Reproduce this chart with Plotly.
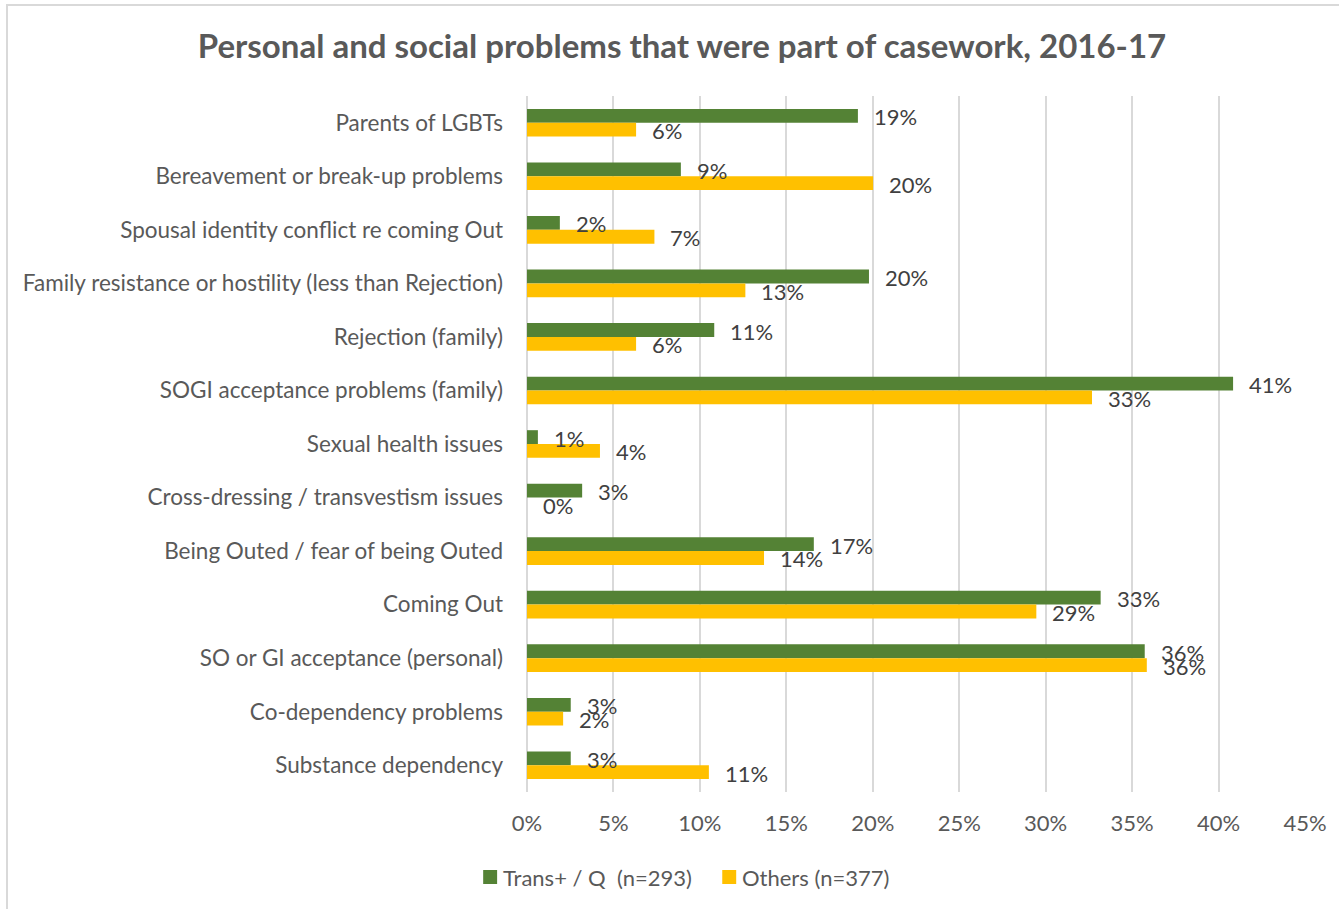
import plotly.graph_objects as go

# Casework problem categories, listed top to bottom
categories = [
    "Parents of LGBTs",
    "Bereavement or break-up problems",
    "Spousal identity conflict re coming Out",
    "Family resistance or hostility (less than Rejection)",
    "Rejection (family)",
    "SOGI acceptance problems (family)",
    "Sexual health issues",
    "Cross-dressing / transvestism issues",
    "Being Outed / fear of being Outed",
    "Coming Out",
    "SO or GI acceptance (personal)",
    "Co-dependency problems",
    "Substance dependency",
]

# Share of cases (fractions)
trans_q = [0.1914, 0.089, 0.019, 0.1978, 0.1083, 0.4084, 0.0063, 0.0319,
           0.1659, 0.3318, 0.3573, 0.0253, 0.0253]
others = [0.0631, 0.2002, 0.0737, 0.1263, 0.0631, 0.3268, 0.0422, 0.0,
          0.1371, 0.2946, 0.3585, 0.0209, 0.1052]

series_names = ["Trans+ / Q\u00a0 (n=293)", "Others (n=377)"]
x_ticks = [0, 0.05, 0.10, 0.15, 0.20, 0.25, 0.30, 0.35, 0.40, 0.45]

GREEN = "#548235"
YELLOW = "#FFC000"
TEXT = "#595959"
FONT = "Lato"
FS = 22

W, H = 1339, 909
L, R, T, B = 527, 31, 96, 117
BAR_W = 0.258

pos = list(range(len(categories)))
colors = [GREEN, YELLOW]

fig = go.Figure()
fig.add_trace(go.Bar(
    x=trans_q, y=pos, orientation="h", name=series_names[0],
    marker=dict(color=GREEN, line=dict(width=0)),
    width=BAR_W, offset=-BAR_W, hoverinfo="x", showlegend=False,
))
fig.add_trace(go.Bar(
    x=others, y=pos, orientation="h", name=series_names[1],
    marker=dict(color=YELLOW, line=dict(width=0)),
    width=BAR_W, offset=0, hoverinfo="x", showlegend=False,
))

# Value labels just past the end of each bar
annotations = []
for vals, shift in ((trans_q, -BAR_W / 2), (others, BAR_W / 2)):
    for i, v in enumerate(vals):
        annotations.append(dict(
            x=v, y=i + shift, xref="x", yref="y",
            text=f"{round(v * 100):.0f}%", showarrow=False,
            xanchor="left", yanchor="middle", xshift=14, yshift=-1,
            font=dict(family=FONT, size=FS, color="#404040"),
        ))

# Pixel helpers for layout-level decorations
pw, ph = W - L - R, H - T - B
def px_x(p):
    return (p - L) / pw
def px_y(p):
    return (H - B - p) / ph

shapes = [
    # thin frame along the top and left edges of the chart area
    dict(type="rect", xref="paper", yref="paper",
         x0=px_x(5), x1=px_x(1400), y0=px_y(5), y1=px_y(1000),
         line=dict(color="#d9d9d9", width=2), layer="below"),
]

# Legend: colour swatch followed by series name
legend_x = [483, 723]
legend_y = 877
for name, col, lx in zip(series_names, colors, legend_x):
    shapes.append(dict(
        type="rect", xref="paper", yref="paper",
        x0=px_x(lx), x1=px_x(lx + 14), y0=px_y(legend_y - 7), y1=px_y(legend_y + 7),
        fillcolor=col, line=dict(width=0),
    ))
    annotations.append(dict(
        x=px_x(lx + 18), y=px_y(legend_y), xref="paper", yref="paper",
        text=name, showarrow=False, xanchor="left", yanchor="middle",
        font=dict(family=FONT, size=FS, color=TEXT),
    ))

fig.update_layout(
    width=W, height=H,
    margin=dict(l=L, r=R, t=T, b=B),
    paper_bgcolor="white", plot_bgcolor="white",
    font=dict(family=FONT, color=TEXT, size=FS),
    title=dict(
        text="<b>Personal and social problems that were part of casework, 2016-17</b>",
        x=682 / W, xref="container", xanchor="center",
        y=1 - 46 / H, yref="container", yanchor="middle",
        font=dict(family=FONT, size=33, color=TEXT),
    ),
    barmode="overlay",
    showlegend=False,
    annotations=annotations,
    shapes=shapes,
    xaxis=dict(
        range=[0, 0.45], tickvals=x_ticks, tickformat=".0%",
        showgrid=True, gridcolor="#d9d9d9", gridwidth=1.5,
        zeroline=True, zerolinecolor="#d9d9d9", zerolinewidth=1.5,
        showline=False, ticks="", ticklabelstandoff=16,
        tickfont=dict(family=FONT, size=FS, color=TEXT),
        fixedrange=True,
    ),
    yaxis=dict(
        range=[len(categories) - 0.5, -0.5],
        tickvals=pos, ticktext=categories,
        showgrid=False, zeroline=False, showline=False, ticks="",
        ticklabelstandoff=23,
        tickfont=dict(family=FONT, size=FS + 0.5, color=TEXT),
        fixedrange=True,
    ),
)

fig.write_html("out.html")
